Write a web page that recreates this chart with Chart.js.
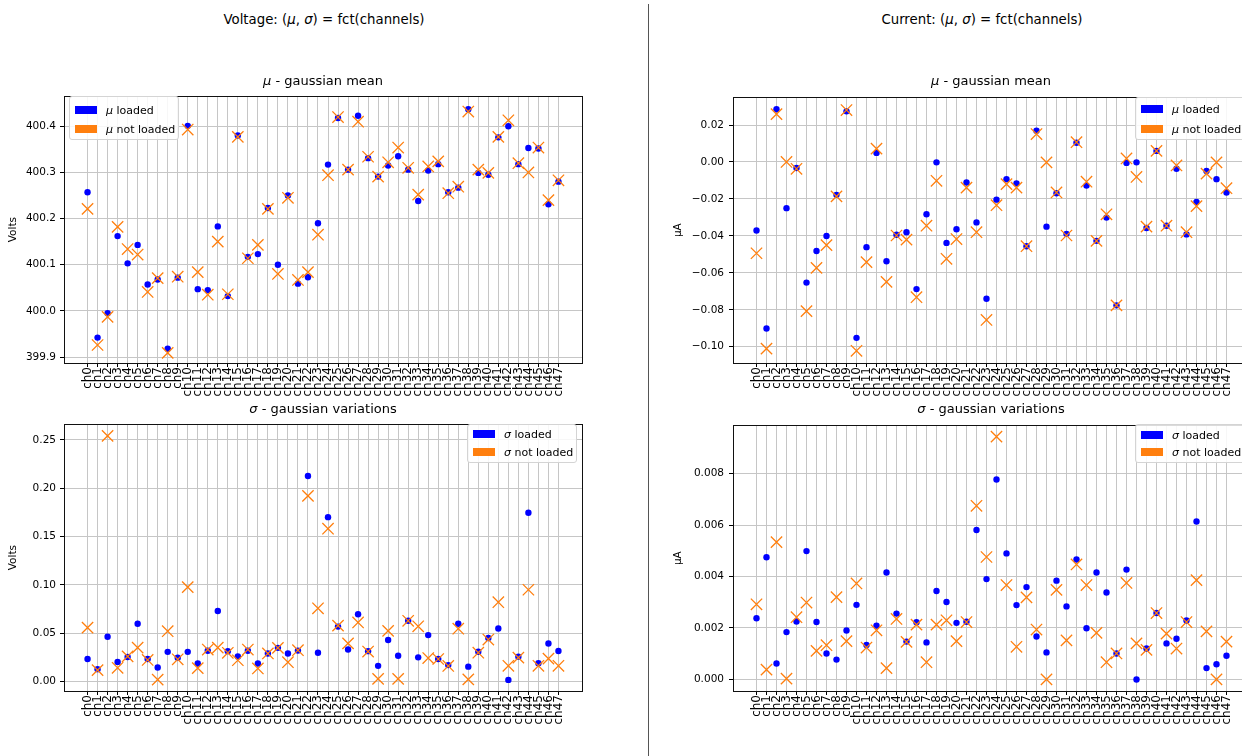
<!DOCTYPE html>
<html><head><meta charset="utf-8">
<script src="https://cdn.jsdelivr.net/npm/chart.js@4.4.1/dist/chart.umd.min.js"></script>
<style>
html,body{margin:0;padding:0;background:#fff;overflow:hidden;width:1242px;height:756px;}
body{position:relative;font-family:"DejaVu Sans",sans-serif;color:#000;}
canvas{position:absolute;}
.t{position:absolute;white-space:nowrap;transform:translate(-50%,-50%);font-size:13px;line-height:1;}
.st{font-size:13.3px;}
.leg{position:absolute;background:rgba(255,255,255,0.85);border:1px solid #d4d4d4;border-radius:3px;box-sizing:border-box;font-size:11px;}
.leg .row{position:absolute;height:14px;display:flex;align-items:center;white-space:nowrap;}
.leg .sw{position:absolute;width:22px;height:8px;}
</style></head>
<body>
<div style="position:absolute;left:648px;top:4px;width:1px;height:752px;background:#555"></div>

<canvas id="c1" width="600" height="330" style="left:0;top:86px"></canvas>
<canvas id="c2" width="600" height="330" style="left:0;top:414px"></canvas>
<canvas id="c3" width="640" height="330" style="left:660px;top:86px"></canvas>
<canvas id="c4" width="640" height="330" style="left:660px;top:414px"></canvas>

<div class="t st" style="left:324px;top:20px">Voltage: (<i>μ</i>, <i>σ</i>) = fct(channels)</div>
<div class="t st" style="left:982px;top:20px">Current: (<i>μ</i>, <i>σ</i>) = fct(channels)</div>
<div class="t" style="left:323px;top:80px"><i>μ</i> - gaussian mean</div>
<div class="t" style="left:991px;top:80px"><i>μ</i> - gaussian mean</div>
<div class="t" style="left:323px;top:408px"><i>σ</i> - gaussian variations</div>
<div class="t" style="left:991px;top:408px"><i>σ</i> - gaussian variations</div>

<div class="leg" style="left:69px;top:96px;width:110px;height:44px">
  <div class="sw" style="left:5px;top:9px;background:#0000ff"></div><div class="row" style="left:36px;top:6px"><i>μ</i>&nbsp;loaded</div>
  <div class="sw" style="left:5px;top:28px;background:#ff7f0e"></div><div class="row" style="left:36px;top:25px"><i>μ</i>&nbsp;not loaded</div>
</div>
<div class="leg" style="left:467px;top:424px;width:110px;height:39px">
  <div class="sw" style="left:5px;top:5px;background:#0000ff"></div><div class="row" style="left:36px;top:2px"><i>σ</i>&nbsp;loaded</div>
  <div class="sw" style="left:5px;top:23px;background:#ff7f0e"></div><div class="row" style="left:36px;top:20px"><i>σ</i>&nbsp;not loaded</div>
</div>
<div class="leg" style="left:1135px;top:97px;width:110px;height:43px">
  <div class="sw" style="left:5px;top:7px;background:#0000ff"></div><div class="row" style="left:36px;top:4px"><i>μ</i>&nbsp;loaded</div>
  <div class="sw" style="left:5px;top:27px;background:#ff7f0e"></div><div class="row" style="left:36px;top:24px"><i>μ</i>&nbsp;not loaded</div>
</div>
<div class="leg" style="left:1135px;top:424px;width:110px;height:39px">
  <div class="sw" style="left:5px;top:6px;background:#0000ff"></div><div class="row" style="left:36px;top:3px"><i>σ</i>&nbsp;loaded</div>
  <div class="sw" style="left:5px;top:23px;background:#ff7f0e"></div><div class="row" style="left:36px;top:20px"><i>σ</i>&nbsp;not loaded</div>
</div>

<script>
const channels = ['ch0','ch1','ch2','ch3','ch4','ch5','ch6','ch7','ch8','ch9','ch10','ch11','ch12','ch13','ch14','ch15','ch16','ch17','ch18','ch19','ch20','ch21','ch22','ch23','ch24','ch25','ch26','ch27','ch28','ch29','ch30','ch31','ch32','ch33','ch34','ch35','ch36','ch37','ch38','ch39','ch40','ch41','ch42','ch43','ch44','ch45','ch46','ch47'];

const voltMuLoaded = [400.257, 399.942, 399.995, 400.162, 400.103, 400.143, 400.057, 400.068, 399.918, 400.072, 400.401, 400.047, 400.045, 400.183, 400.032, 400.380, 400.117, 400.123, 400.223, 400.100, 400.250, 400.059, 400.073, 400.190, 400.317, 400.418, 400.306, 400.423, 400.331, 400.291, 400.315, 400.335, 400.306, 400.238, 400.304, 400.318, 400.257, 400.267, 400.437, 400.299, 400.295, 400.376, 400.400, 400.318, 400.353, 400.352, 400.231, 400.280];
const voltMuNotLoaded = [400.221, 399.926, 399.987, 400.182, 400.134, 400.122, 400.041, 400.071, 399.909, 400.074, 400.393, 400.084, 400.035, 400.150, 400.036, 400.377, 400.114, 400.143, 400.221, 400.080, 400.245, 400.067, 400.084, 400.165, 400.294, 400.420, 400.306, 400.410, 400.334, 400.291, 400.322, 400.354, 400.310, 400.252, 400.313, 400.324, 400.255, 400.269, 400.432, 400.306, 400.299, 400.377, 400.413, 400.320, 400.300, 400.354, 400.240, 400.283];

const voltSigLoaded = [0.0233, 0.0128, 0.0463, 0.0203, 0.0253, 0.0598, 0.0233, 0.0145, 0.0307, 0.0247, 0.0307, 0.0186, 0.0318, 0.0730, 0.0314, 0.0260, 0.0318, 0.0186, 0.0290, 0.0348, 0.0290, 0.0320, 0.2125, 0.0297, 0.1700, 0.0568, 0.0331, 0.0696, 0.0314, 0.0162, 0.0429, 0.0267, 0.0628, 0.0250, 0.0480, 0.0233, 0.0170, 0.0598, 0.0154, 0.0308, 0.0450, 0.0549, 0.0017, 0.0257, 0.1745, 0.0190, 0.0393, 0.0315];
const voltSigNotLoaded = [0.0557, 0.0118, 0.2540, 0.0142, 0.0260, 0.0351, 0.0223, 0.0020, 0.0520, 0.0230, 0.0976, 0.0139, 0.0331, 0.0351, 0.0297, 0.0220, 0.0331, 0.0135, 0.0290, 0.0348, 0.0200, 0.0324, 0.1920, 0.0757, 0.1580, 0.0578, 0.0395, 0.0611, 0.0310, 0.0027, 0.0524, 0.0027, 0.0628, 0.0571, 0.0243, 0.0233, 0.0161, 0.0546, 0.0022, 0.0298, 0.0434, 0.0820, 0.0163, 0.0247, 0.0949, 0.0163, 0.0237, 0.0163];

const currMuLoaded = [-0.0371, -0.0901, 0.0285, -0.0250, -0.0033, -0.0653, -0.0482, -0.0401, -0.0178, 0.0274, -0.0952, -0.0461, 0.0049, -0.0537, -0.0394, -0.0380, -0.0688, -0.0283, -0.0002, -0.0438, -0.0364, -0.0111, -0.0327, -0.0740, -0.0204, -0.0093, -0.0116, -0.0456, 0.0169, -0.0350, -0.0169, -0.0389, 0.0104, -0.0128, -0.0427, -0.0301, -0.0776, -0.0005, -0.0002, -0.0357, 0.0060, -0.0345, -0.0037, -0.0392, -0.0216, -0.0049, -0.0093, -0.0165];
const currMuNotLoaded = [-0.0494, -0.1010, 0.0259, 0.0000, -0.0037, -0.0807, -0.0573, -0.0450, -0.0186, 0.0281, -0.1022, -0.0542, 0.0072, -0.0649, -0.0398, -0.0420, -0.0732, -0.0345, -0.0102, -0.0524, -0.0417, -0.0139, -0.0380, -0.0855, -0.0234, -0.0120, -0.0139, -0.0456, 0.0151, -0.0002, -0.0165, -0.0398, 0.0107, -0.0107, -0.0427, -0.0283, -0.0776, 0.0019, -0.0081, -0.0350, 0.0060, -0.0345, -0.0019, -0.0380, -0.0239, -0.0063, -0.0002, -0.0142];

const currSigLoaded = [0.00238, 0.00475, 0.00062, 0.00184, 0.00225, 0.00499, 0.00223, 0.00101, 0.00077, 0.00190, 0.00290, 0.00134, 0.00209, 0.00416, 0.00256, 0.00147, 0.00222, 0.00144, 0.00344, 0.00301, 0.00220, 0.00224, 0.00581, 0.00390, 0.00777, 0.00490, 0.00289, 0.00359, 0.00167, 0.00105, 0.00384, 0.00284, 0.00466, 0.00199, 0.00416, 0.00338, 0.00101, 0.00427, 0.00000, 0.00120, 0.00258, 0.00140, 0.00158, 0.00229, 0.00614, 0.00044, 0.00059, 0.00092];
const currSigNotLoaded = [0.00292, 0.00038, 0.00534, 0.00003, 0.00242, 0.00299, 0.00111, 0.00133, 0.00320, 0.00149, 0.00373, 0.00124, 0.00191, 0.00044, 0.00235, 0.00146, 0.00213, 0.00067, 0.00213, 0.00230, 0.00149, 0.00223, 0.00675, 0.00476, 0.00944, 0.00367, 0.00127, 0.00319, 0.00194, 0.00000, 0.00348, 0.00152, 0.00447, 0.00367, 0.00181, 0.00067, 0.00101, 0.00375, 0.00140, 0.00115, 0.00258, 0.00178, 0.00120, 0.00223, 0.00386, 0.00187, 0.00000, 0.00147];

const yTicksVoltMu = [399.9, 400.0, 400.1, 400.2, 400.3, 400.4];
const yTicksVoltSig = [0.00, 0.05, 0.10, 0.15, 0.20, 0.25];
const yTicksCurrMu = [-0.10, -0.08, -0.06, -0.04, -0.02, 0.00, 0.02];
const yTicksCurrSig = [0.000, 0.002, 0.004, 0.006, 0.008];

Chart.defaults.font.family = '"DejaVu Sans", sans-serif';

const framePlugin = {
  id: 'frame',
  afterDraw(chart) {
    const {ctx, chartArea: a} = chart;
    ctx.save();
    ctx.strokeStyle = '#111';
    ctx.lineWidth = 1;
    ctx.strokeRect(Math.round(a.left) + 0.5, Math.round(a.top) + 0.5, Math.round(a.right - a.left), Math.round(a.bottom - a.top));
    ctx.restore();
  }
};

function fmt(v, d) {
  const s = (Math.abs(v) < 1e-12 ? 0 : v).toFixed(d);
  return s.replace('-', '\u2212');
}

function makeChart(id, loaded, notLoaded, names, yTicks, dec, yMin, yMax, yTitle, yWidth, titlePad, padRight, tickPad) {
  return new Chart(document.getElementById(id), {
    type: 'scatter',
    data: {
      datasets: [
        { label: names[0], data: loaded.map((v, i) => ({x: i, y: v})), pointStyle: 'circle', pointRadius: 3.2,
          pointBackgroundColor: '#0000ff', pointBorderColor: '#0000ff', pointBorderWidth: 0, order: 1 },
        { label: names[1], data: notLoaded.map((v, i) => ({x: i, y: v})), pointStyle: 'crossRot', pointRadius: 8,
          pointBackgroundColor: '#ff7f0e', pointBorderColor: '#ff7f0e', pointBorderWidth: 1.3, order: 0 }
      ]
    },
    options: {
      responsive: false, animation: false, devicePixelRatio: 1, events: [],
      layout: { padding: { top: 5, right: padRight, left: 0, bottom: 0 } },
      plugins: { legend: { display: false }, title: { display: false }, tooltip: { enabled: false } },
      scales: {
        x: {
          type: 'linear', min: -2.35, max: 49.35,
          afterBuildTicks: s => { s.ticks = channels.map((c, i) => ({ value: i })); },
          afterFit: s => { s.height = 53; },
          ticks: { autoSkip: false, minRotation: 90, maxRotation: 90, padding: 0, color: '#000',
                   font: { size: 12 }, callback: v => channels[v] },
          grid: { color: '#c6c6c6', lineWidth: 1, tickLength: 4, tickColor: '#000', tickWidth: 1 },
          border: { display: false }
        },
        y: {
          type: 'linear', min: yMin, max: yMax,
          afterBuildTicks: s => { s.ticks = yTicks.map(v => ({ value: v })); },
          afterFit: s => { s.width = yWidth; },
          ticks: { padding: tickPad, color: '#000', font: { size: 10.5 }, callback: v => fmt(v, dec) },
          grid: { color: '#c6c6c6', lineWidth: 1, tickLength: 4, tickColor: '#000', tickWidth: 1 },
          border: { display: false },
          title: { display: true, text: yTitle, color: '#000', font: { size: 10.5 }, padding: { top: titlePad, bottom: 0 } }
        }
      }
    },
    plugins: [framePlugin]
  });
}

makeChart('c1', voltMuLoaded, voltMuNotLoaded, ['μ loaded', 'μ not loaded'], yTicksVoltMu, 1, 399.887, 400.465, 'Volts', 64, 7, 18, 4);
makeChart('c2', voltSigLoaded, voltSigNotLoaded, ['σ loaded', 'σ not loaded'], yTicksVoltSig, 2, -0.0098, 0.266, 'Volts', 64, 7, 18, 4);
makeChart('c3', currMuLoaded, currMuNotLoaded, ['μ loaded', 'μ not loaded'], yTicksCurrMu, 2, -0.1088, 0.035, 'μA', 73, 11.7, 50, 5);
makeChart('c4', currSigLoaded, currSigNotLoaded, ['σ loaded', 'σ not loaded'], yTicksCurrSig, 3, -0.00045, 0.00988, 'μA', 73, 11.7, 50, 5);
</script>
</body></html>
